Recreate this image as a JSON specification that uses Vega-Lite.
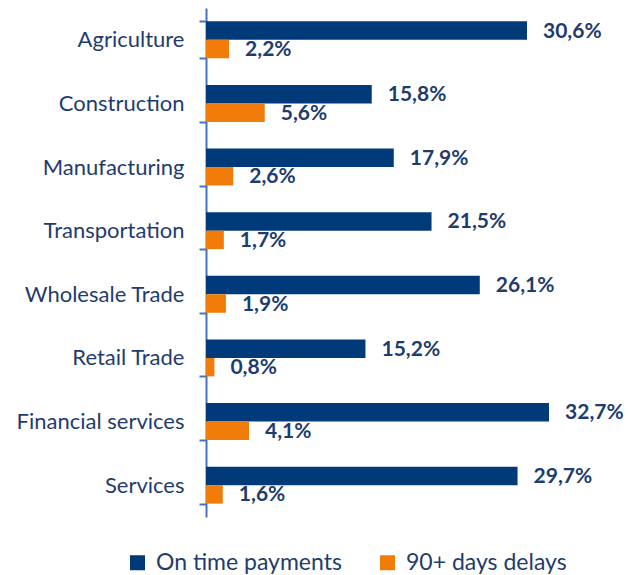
{
  "$schema": "https://vega.github.io/schema/vega-lite/v6.json",
  "autosize": {"type": "none"},
  "padding": {"left": 206, "top": 8, "right": 0, "bottom": 58},
  "width": 424,
  "height": 509,
  "background": "white",
  "config": {"view": {"stroke": null}, "font": "Lato"},
  "data": {"values": [
    {"sector": "Agriculture", "series": "On time payments", "value": 30.6, "label": "30,6%"},
    {"sector": "Agriculture", "series": "90+ days delays", "value": 2.2, "label": "2,2%"},
    {"sector": "Construction", "series": "On time payments", "value": 15.8, "label": "15,8%"},
    {"sector": "Construction", "series": "90+ days delays", "value": 5.6, "label": "5,6%"},
    {"sector": "Manufacturing", "series": "On time payments", "value": 17.9, "label": "17,9%"},
    {"sector": "Manufacturing", "series": "90+ days delays", "value": 2.6, "label": "2,6%"},
    {"sector": "Transportation", "series": "On time payments", "value": 21.5, "label": "21,5%"},
    {"sector": "Transportation", "series": "90+ days delays", "value": 1.7, "label": "1,7%"},
    {"sector": "Wholesale Trade", "series": "On time payments", "value": 26.1, "label": "26,1%"},
    {"sector": "Wholesale Trade", "series": "90+ days delays", "value": 1.9, "label": "1,9%"},
    {"sector": "Retail Trade", "series": "On time payments", "value": 15.2, "label": "15,2%"},
    {"sector": "Retail Trade", "series": "90+ days delays", "value": 0.8, "label": "0,8%"},
    {"sector": "Financial services", "series": "On time payments", "value": 32.7, "label": "32,7%"},
    {"sector": "Financial services", "series": "90+ days delays", "value": 4.1, "label": "4,1%"},
    {"sector": "Services", "series": "On time payments", "value": 29.7, "label": "29,7%"},
    {"sector": "Services", "series": "90+ days delays", "value": 1.6, "label": "1,6%"}
  ]},
  "encoding": {
    "y": {
      "field": "sector", "type": "nominal", "sort": null, "title": null,
      "scale": {"paddingInner": 0.42, "paddingOuter": 0.21},
      "axis": {
        "tickBand": "extent", "domainColor": "#4472C4", "domainWidth": 2,
        "tickColor": "#4472C4", "tickWidth": 2, "tickSize": 7,
        "labelPadding": 15, "labelFontSize": 22, "labelColor": "#1F3C6E",
        "labelFont": "Lato"
      }
    },
    "yOffset": {"field": "series", "type": "nominal", "sort": ["On time payments", "90+ days delays"]},
    "x": {
      "field": "value", "type": "quantitative",
      "scale": {"domain": [0, 40.42], "nice": false},
      "axis": null
    }
  },
  "layer": [
    {
      "mark": {"type": "bar", "cornerRadius": 0},
      "encoding": {
        "color": {
          "field": "series", "type": "nominal",
          "scale": {"domain": ["On time payments", "90+ days delays"], "range": ["#013A78", "#F17C0A"]},
          "legend": {
            "title": null, "orient": "none", "direction": "horizontal",
            "legendX": -80, "legendY": 543,
            "symbolType": "square", "symbolSize": 225, "symbolStrokeWidth": 0,
            "labelFontSize": 23, "labelColor": "#1F3C6E", "labelFont": "Lato",
            "labelLimit": 0, "columnPadding": 34, "labelOffset": 7
          }
        }
      }
    },
    {
      "mark": {"type": "text", "align": "left", "baseline": "middle", "dx": 16, "dy": 1, "fontSize": 21, "fontWeight": "bold", "color": "#1F3C6E", "font": "Lato"},
      "encoding": {"text": {"field": "label"}}
    }
  ]
}
